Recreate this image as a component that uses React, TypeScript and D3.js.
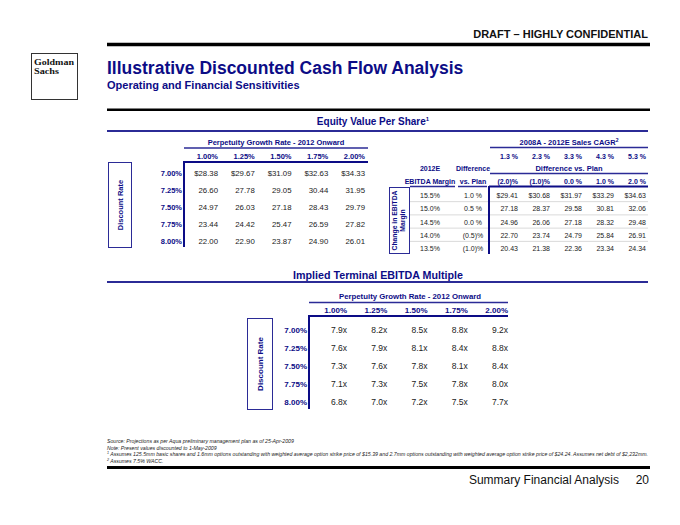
import React from "react";
import * as d3 from "d3";

const growthRates = ["1.00%", "1.25%", "1.50%", "1.75%", "2.00%"];
const discountRates = ["7.00%", "7.25%", "7.50%", "7.75%", "8.00%"];
const equityValues = [
  [28.38, 29.67, 31.09, 32.63, 34.33],
  [26.6, 27.78, 29.05, 30.44, 31.95],
  [24.97, 26.03, 27.18, 28.43, 29.79],
  [23.44, 24.42, 25.47, 26.59, 27.82],
  [22.0, 22.9, 23.87, 24.9, 26.01],
];
const salesCagr = ["1.3 %", "2.3 %", "3.3 %", "4.3 %", "5.3 %"];
const cagrVsPlan = ["(2.0)%", "(1.0)%", "0.0 %", "1.0 %", "2.0 %"];
const ebitdaMargins = ["15.5%", "15.0%", "14.5%", "14.0%", "13.5%"];
const marginVsPlan = ["1.0 %", "0.5 %", "0.0 %", "(0.5)%", "(1.0)%"];
const sensitivityValues = [
  [29.41, 30.68, 31.97, 33.29, 34.63],
  [27.18, 28.37, 29.58, 30.81, 32.06],
  [24.96, 26.06, 27.18, 28.32, 29.48],
  [22.7, 23.74, 24.79, 25.84, 26.91],
  [20.43, 21.38, 22.36, 23.34, 24.34],
];
const terminalMultiples = [
  [7.9, 8.2, 8.5, 8.8, 9.2],
  [7.6, 7.9, 8.1, 8.4, 8.8],
  [7.3, 7.6, 7.8, 8.1, 8.4],
  [7.1, 7.3, 7.5, 7.8, 8.0],
  [6.8, 7.0, 7.2, 7.5, 7.7],
];
const footnotes = [
  { sup: "", text: "Source: Projections as per Aqua preliminary management plan as of 25-Apr-2009" },
  { sup: "", text: "Note: Present values discounted to 1-May-2009" },
  {
    sup: "1",
    text: " Assumes 125.5mm basic shares and 1.6mm options outstanding with weighted average option strike price of $15.39 and 2.7mm options outstanding with weighted average option strike price of $24.24. Assumes net debt of $2,232mm.",
  },
  { sup: "2", text: " Assumes 7.5% WACC." },
];

const FONT = "'Liberation Sans', Arial, Helvetica, sans-serif";
const NAVY = "#0c0c86";
const LINE = "#2b2b96";

export default function App() {
  // Table 1 scales
  const x1 = d3.scalePoint<string>().domain(growthRates).range([218, 365]);
  const y1 = d3.scalePoint<string>().domain(discountRates).range([176, 244]);
  const money = d3.format("$.2f");
  const num = d3.format(".2f");

  // Table 2 scales
  const x2 = d3.scalePoint<string>().domain(cagrVsPlan).range([518, 646]);
  const y2 = d3.scalePoint<string>().domain(ebitdaMargins).range([198, 251]);

  // Table 3 scales
  const x3 = d3.scalePoint<string>().domain(growthRates).range([347, 508]);
  const y3 = d3.scalePoint<string>().domain(discountRates).range([333, 405]);
  const mult = (v: number) => d3.format(".1f")(v) + "x";

  const rowSeps = d3.pairs(y2.domain().map((d) => y2(d) as number)).map(([a, b]) => (a + b) / 2 - 3);

  return (
    <svg
      width={680}
      height={525}
      style={{ position: "fixed", left: 0, top: 0, background: "#fff" }}
      fontFamily={FONT}
    >
      <rect width={680} height={525} fill="#fff" />
      {/* Header */}
      <text x={648} y={38} textAnchor="end" fontSize={11} fontWeight="bold" fill="#111">
        DRAFT – HIGHLY CONFIDENTIAL
      </text>
      <line x1={107} x2={650} y1={44.5} y2={44.5} stroke="#000" strokeWidth={3.5} />
      {/* Logo */}
      <rect x={31.5} y={53.5} width={46} height={46} fill="#fff" stroke="#333" strokeWidth={1} />
      <text x={34} y={64.5} fontSize={9} fontFamily="'Liberation Serif', 'DejaVu Serif', serif" fontWeight="bold" textLength={40} lengthAdjust="spacingAndGlyphs" fill="#111">
        Goldman
      </text>
      <text x={34} y={73.5} fontSize={9} fontFamily="'Liberation Serif', 'DejaVu Serif', serif" fontWeight="bold" textLength={25} lengthAdjust="spacingAndGlyphs" fill="#111">
        Sachs
      </text>
      <text x={107} y={74} fontSize={17.5} fontWeight="bold" fill={NAVY}>
        Illustrative Discounted Cash Flow Analysis
      </text>
      <text x={107} y={89} fontSize={11} fontWeight="bold" fill={NAVY}>
        Operating and Financial Sensitivities
      </text>
      <line x1={107} x2={650} y1={109.8} y2={109.8} stroke="#000" strokeWidth={2.5} />

      {/* Equity Value heading */}
      <text x={373} y={125} textAnchor="middle" fontSize={10} fontWeight="bold" fill={NAVY}>
        Equity Value Per Share<tspan fontSize={6} dy={-4}>1</tspan>
      </text>
      <line x1={107} x2={648} y1={131} y2={131} stroke={LINE} strokeWidth={1.8} />

      {/* Table 1 */}
      <text x={276} y={145} textAnchor="middle" fontSize={7.5} fontWeight="bold" fill={NAVY}>
        Perpetuity Growth Rate - 2012 Onward
      </text>
      <line x1={184} x2={368} y1={148} y2={148} stroke={LINE} strokeWidth={1.5} />
      {growthRates.map((g) => (
        <text key={g} x={x1(g)} y={158.5} textAnchor="end" fontSize={7.5} fontWeight="bold" fill={NAVY}>
          {g}
        </text>
      ))}
      <line x1={183} x2={368} y1={162} y2={162} stroke={NAVY} strokeWidth={2} />
      <line x1={184} x2={184} y1={162} y2={247} stroke={NAVY} strokeWidth={2} />
      {discountRates.map((r, i) => (
        <g key={r}>
          <text x={182} y={y1(r)} textAnchor="end" fontSize={7.5} fontWeight="bold" fill={NAVY}>
            {r}
          </text>
          {growthRates.map((g, j) => (
            <text key={g} x={x1(g)} y={y1(r)} textAnchor="end" fontSize={7.8} fill="#222">
              {i === 0 ? money(equityValues[i][j]) : num(equityValues[i][j])}
            </text>
          ))}
        </g>
      ))}
      <rect x={108.5} y={162.5} width={23} height={85} fill="none" stroke={LINE} strokeWidth={1} />
      <text transform="translate(123,205) rotate(-90)" textAnchor="middle" fontSize={7.5} fontWeight="bold" fill={NAVY}>
        Discount Rate
      </text>

      {/* Table 2 */}
      <text x={569} y={145} textAnchor="middle" fontSize={7.5} fontWeight="bold" fill={NAVY}>
        2008A - 2012E Sales CAGR<tspan fontSize={5} dy={-3}>2</tspan>
      </text>
      <line x1={490} x2={648} y1={147.5} y2={147.5} stroke={LINE} strokeWidth={1.5} />
      {salesCagr.map((s, j) => (
        <text key={s} x={x2(cagrVsPlan[j])} y={158.5} textAnchor="end" fontSize={7} fontWeight="bold" fill={NAVY}>
          {s}
        </text>
      ))}
      <text x={430} y={170.5} textAnchor="middle" fontSize={7} fontWeight="bold" fill={NAVY}>
        2012E
      </text>
      <text x={473} y={170.5} textAnchor="middle" fontSize={7} fontWeight="bold" fill={NAVY}>
        Difference
      </text>
      <text x={569} y={170.5} textAnchor="middle" fontSize={7.5} fontWeight="bold" fill={NAVY}>
        Difference vs. Plan
      </text>
      <line x1={490} x2={648} y1={173.5} y2={173.5} stroke={LINE} strokeWidth={1.5} />
      <text x={430} y={184} textAnchor="middle" fontSize={7} fontWeight="bold" fill={NAVY}>
        EBITDA Margin
      </text>
      <text x={473} y={184} textAnchor="middle" fontSize={7} fontWeight="bold" fill={NAVY}>
        vs. Plan
      </text>
      {cagrVsPlan.map((c) => (
        <text key={c} x={x2(c)} y={184} textAnchor="end" fontSize={7} fontWeight="bold" fill={NAVY}>
          {c}
        </text>
      ))}
      <line x1={410} x2={455} y1={186.5} y2={186.5} stroke={LINE} strokeWidth={1.5} />
      <line x1={458} x2={487} y1={186.5} y2={186.5} stroke={LINE} strokeWidth={1.5} />
      <line x1={489} x2={648} y1={186.5} y2={186.5} stroke={NAVY} strokeWidth={2} />
      {rowSeps.map((y, i) => (
        <line key={i} x1={410} x2={648} y1={y} y2={y} stroke="#d0d0d0" strokeWidth={0.8} />
      ))}
      <line x1={489} x2={489} y1={186} y2={254} stroke={NAVY} strokeWidth={2} />
      {ebitdaMargins.map((m, i) => (
        <g key={m}>
          <text x={430} y={y2(m)} textAnchor="middle" fontSize={7} fill="#222">
            {m}
          </text>
          <text x={473} y={y2(m)} textAnchor="middle" fontSize={7} fill="#222">
            {marginVsPlan[i]}
          </text>
          {cagrVsPlan.map((c, j) => (
            <text key={c} x={x2(c)} y={y2(m)} textAnchor="end" fontSize={7} fill="#222">
              {i === 0 ? money(sensitivityValues[i][j]) : num(sensitivityValues[i][j])}
            </text>
          ))}
        </g>
      ))}
      <rect x={389.5} y={187.5} width={20} height={66} fill="none" stroke={LINE} strokeWidth={1} />
      <text transform="translate(397,220.5) rotate(-90)" textAnchor="middle" fontSize={6.8} fontWeight="bold" fill={NAVY}>
        Change in EBITDA
      </text>
      <text transform="translate(404.5,220.5) rotate(-90)" textAnchor="middle" fontSize={6.8} fontWeight="bold" fill={NAVY}>
        Margin
      </text>

      {/* Implied Terminal EBITDA Multiple */}
      <text x={378} y={278.5} textAnchor="middle" fontSize={10.7} fontWeight="bold" fill={NAVY}>
        Implied Terminal EBITDA Multiple
      </text>
      <line x1={107} x2={648} y1={282} y2={282} stroke={LINE} strokeWidth={1.8} />
      <text x={410} y={298.5} textAnchor="middle" fontSize={7.8} fontWeight="bold" fill={NAVY}>
        Perpetuity Growth Rate - 2012 Onward
      </text>
      <line x1={309} x2={508} y1={302.5} y2={302.5} stroke={LINE} strokeWidth={1.5} />
      {growthRates.map((g) => (
        <text key={g} x={x3(g)} y={312.5} textAnchor="end" fontSize={8} fontWeight="bold" fill={NAVY}>
          {g}
        </text>
      ))}
      <line x1={308} x2={508} y1={316} y2={316} stroke={NAVY} strokeWidth={2} />
      <line x1={309} x2={309} y1={316} y2={409} stroke={NAVY} strokeWidth={2} />
      {discountRates.map((r, i) => (
        <g key={r}>
          <text x={307} y={y3(r)} textAnchor="end" fontSize={8} fontWeight="bold" fill={NAVY}>
            {r}
          </text>
          {growthRates.map((g, j) => (
            <text key={g} x={x3(g)} y={y3(r)} textAnchor="end" fontSize={8.5} fill="#222">
              {mult(terminalMultiples[i][j])}
            </text>
          ))}
        </g>
      ))}
      <rect x={247.5} y={318.5} width={25} height={91} fill="none" stroke={LINE} strokeWidth={1} />
      <text transform="translate(263,364) rotate(-90)" textAnchor="middle" fontSize={8} fontWeight="bold" fill={NAVY}>
        Discount Rate
      </text>

      {/* Footnotes */}
      {footnotes.map((f, i) => (
        <text key={i} x={107} y={443 + i * 6.5} fontSize={5.2} fontStyle="italic" fill="#222" textLength={i === 2 ? 541 : undefined} lengthAdjust="spacingAndGlyphs">
          {f.sup ? <tspan fontSize={3.6} dy={-1.6}>{f.sup}</tspan> : null}
          {f.sup ? <tspan dy={1.6}>{f.text}</tspan> : f.text}
        </text>
      ))}
      <line x1={107} x2={650} y1={467.5} y2={467.5} stroke="#000" strokeWidth={3} />
      <text x={619} y={484} textAnchor="end" fontSize={12} fill="#111">
        Summary Financial Analysis
      </text>
      <text x={649} y={484} textAnchor="end" fontSize={12} fill="#111">
        20
      </text>
    </svg>
  );
}
